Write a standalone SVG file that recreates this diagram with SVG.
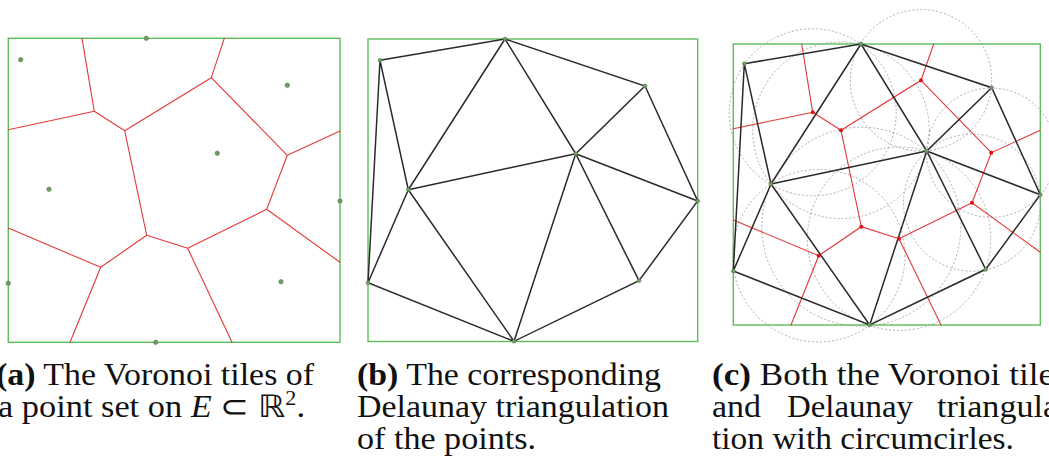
<svg xmlns="http://www.w3.org/2000/svg" width="1049" height="466" viewBox="0 0 1049 466">
<style>
.frame{fill:none;stroke:#5cbd5c;stroke-width:1.4}
.vor{fill:none;stroke:#e23a3a;stroke-width:1.1;stroke-linecap:round}
.tri{fill:none;stroke:#2a2a2a;stroke-width:1.5;stroke-linecap:round}
.circ{fill:none;stroke:#9a9a9a;stroke-width:0.8;stroke-dasharray:2 2}
.pt{fill:#6e9c62;stroke:#557f4c;stroke-width:0.6}
.vv{fill:#e01010}
.cap{font-family:"Liberation Serif",serif;font-size:31px;fill:#111}
.b{font-weight:bold}
</style>
<rect width="1049" height="466" fill="#fff"/>

<!-- Panel (a) -->
<g id="panel-a">
<rect class="frame" x="8.3" y="38.3" width="331.7" height="304"/>
<g id="a-connectors" class="vor">
<path d="M82,38.3 L94.3,111.3 M94.3,111.3 L8.3,129.7 M94.3,111.3 L124.7,130.7 M124.7,130.7 L211.3,77.7 M211.3,77.7 L224.3,38.3 M211.3,77.7 L287.3,155.3 M287.3,155.3 L340,131 M287.3,155.3 L266.7,209.3 M266.7,209.3 L340,262.3 M266.7,209.3 L187.7,248.3 M187.7,248.3 L232,342.3 M187.7,248.3 L146.7,235.3 M146.7,235.3 L124.7,130.7 M146.7,235.3 L100.7,267.3 M100.7,267.3 L8.3,228 M100.7,267.3 L70,342.3"/>
</g>
<g id="a-p1"><circle class="pt" cx="146.3" cy="38.3" r="2.2"/></g>
<g id="a-p2"><circle class="pt" cx="20.7" cy="59.7" r="2.2"/></g>
<g id="a-p3"><circle class="pt" cx="287.3" cy="85.3" r="2.2"/></g>
<g id="a-p4"><circle class="pt" cx="217.3" cy="153.3" r="2.2"/></g>
<g id="a-p5"><circle class="pt" cx="49" cy="189.3" r="2.2"/></g>
<g id="a-p6"><circle class="pt" cx="340" cy="201" r="2.2"/></g>
<g id="a-p7"><circle class="pt" cx="8.3" cy="283.3" r="2.2"/></g>
<g id="a-p8"><circle class="pt" cx="281" cy="281.7" r="2.2"/></g>
<g id="a-p9"><circle class="pt" cx="155.7" cy="342.3" r="2.2"/></g>
</g>

<!-- Panel (b) -->
<g id="panel-b">
<rect class="frame" x="368" y="39" width="329.7" height="302.5"/>
<g id="b-connectors" class="tri">
<path d="M380,60.3 L505,39 L645,86 L697.7,201 L639,280.7 L514,341.3 L368,282.7 Z M380,60.3 L408.3,189.7 L505,39 L575.7,153.7 L645,86 M575.7,153.7 L697.7,201 M408.3,189.7 L575.7,153.7 M408.3,189.7 L368,282.7 M408.3,189.7 L514,341.3 L575.7,153.7 L639,280.7"/>
</g>
<g id="b-p1"><circle class="pt" cx="505" cy="39" r="1.9"/></g>
<g id="b-p2"><circle class="pt" cx="380" cy="60.3" r="1.9"/></g>
<g id="b-p3"><circle class="pt" cx="645" cy="86" r="1.9"/></g>
<g id="b-p4"><circle class="pt" cx="575.7" cy="153.7" r="1.9"/></g>
<g id="b-p5"><circle class="pt" cx="408.3" cy="189.7" r="1.9"/></g>
<g id="b-p6"><circle class="pt" cx="697.7" cy="201" r="1.9"/></g>
<g id="b-p7"><circle class="pt" cx="368" cy="282.7" r="1.9"/></g>
<g id="b-p8"><circle class="pt" cx="639" cy="280.7" r="1.9"/></g>
<g id="b-p9"><circle class="pt" cx="514" cy="341.3" r="1.9"/></g>
</g>

<!-- Panel (c) -->
<g id="panel-c">
<rect class="frame" x="733.3" y="44" width="307" height="281"/>
<g id="c-circles" class="circ">
<circle cx="812.7" cy="112.3" r="83.5"/>
<circle cx="841" cy="130.3" r="88.3"/>
<circle cx="921" cy="80.3" r="70.7"/>
<circle cx="991.3" cy="152.7" r="64.7"/>
<circle cx="972" cy="202.7" r="68.5"/>
<circle cx="899" cy="238.7" r="91.7"/>
<circle cx="861.3" cy="226.7" r="99.5"/>
<circle cx="818.7" cy="255.7" r="86.3"/>
</g>
<g id="c-connectors">
<path class="vor" d="M812.7,112.3 L801.7,44 M812.7,112.3 L733.3,128.7 M812.7,112.3 L841,130.3 L921,80.3 L933.7,44 M841,130.3 L861.3,226.7 M921,80.3 L991.3,152.7 L1040.3,130.3 M991.3,152.7 L972,202.7 L1040.3,252.3 M972,202.7 L899,238.7 L941,325 M899,238.7 L861.3,226.7 L818.7,255.7 L791,325 M818.7,255.7 L733.3,220"/>
<path class="tri" d="M744.3,63.7 L861,44 L991.7,87.7 L1040.3,194.7 L985.7,269.3 L869.7,325 L733.3,271 Z M744.3,63.7 L771,184 L861,44 L926.7,151 L991.7,87.7 M926.7,151 L1040.3,194.7 M771,184 L926.7,151 M771,184 L733.3,271 M771,184 L869.7,325 L926.7,151 L985.7,269.3"/>
</g>
<g id="c-v1"><circle class="vv" cx="812.7" cy="112.3" r="2"/></g>
<g id="c-v2"><circle class="vv" cx="841" cy="130.3" r="2"/></g>
<g id="c-v3"><circle class="vv" cx="921" cy="80.3" r="2"/></g>
<g id="c-v4"><circle class="vv" cx="991.3" cy="152.7" r="2"/></g>
<g id="c-v5"><circle class="vv" cx="972" cy="202.7" r="2"/></g>
<g id="c-v6"><circle class="vv" cx="899" cy="238.7" r="2"/></g>
<g id="c-v7"><circle class="vv" cx="861.3" cy="226.7" r="2"/></g>
<g id="c-v8"><circle class="vv" cx="818.7" cy="255.7" r="2"/></g>
<g id="c-p1"><circle class="pt" cx="861" cy="44" r="1.9"/></g>
<g id="c-p2"><circle class="pt" cx="744.3" cy="63.7" r="1.9"/></g>
<g id="c-p3"><circle class="pt" cx="991.7" cy="87.7" r="1.9"/></g>
<g id="c-p4"><circle class="pt" cx="926.7" cy="151" r="1.9"/></g>
<g id="c-p5"><circle class="pt" cx="771" cy="184" r="1.9"/></g>
<g id="c-p6"><circle class="pt" cx="1040.3" cy="194.7" r="1.9"/></g>
<g id="c-p7"><circle class="pt" cx="733.3" cy="271" r="1.9"/></g>
<g id="c-p8"><circle class="pt" cx="985.7" cy="269.3" r="1.9"/></g>
<g id="c-p9"><circle class="pt" cx="869.7" cy="325" r="1.9"/></g>
</g>

<!-- Captions -->
<g id="captions" class="cap">
<text x="-4" y="385" textLength="318" lengthAdjust="spacingAndGlyphs"><tspan class="b">(a)</tspan> The Voronoi tiles of</text>
<text x="-2" y="417" textLength="307" lengthAdjust="spacingAndGlyphs">a point set on <tspan font-style="italic">E</tspan> ⊂ ℝ<tspan font-size="20" dy="-12">2</tspan><tspan dy="12">.</tspan></text>
<text x="357" y="385" textLength="304" lengthAdjust="spacingAndGlyphs"><tspan class="b">(b)</tspan> The corresponding</text>
<text x="357" y="417" textLength="312" lengthAdjust="spacingAndGlyphs">Delaunay triangulation</text>
<text x="357" y="449" textLength="179" lengthAdjust="spacingAndGlyphs">of the points.</text>
<text x="712" y="385" textLength="342" lengthAdjust="spacingAndGlyphs"><tspan class="b">(c)</tspan> Both the Voronoi tile</text>
<text x="712" y="417" textLength="49" lengthAdjust="spacingAndGlyphs">and</text>
<text x="787" y="417" textLength="126" lengthAdjust="spacingAndGlyphs">Delaunay</text>
<text x="937" y="417" textLength="121" lengthAdjust="spacingAndGlyphs">triangula</text>
<text x="712" y="449" textLength="302" lengthAdjust="spacingAndGlyphs">tion with circumcirles.</text>
</g>
</svg>
